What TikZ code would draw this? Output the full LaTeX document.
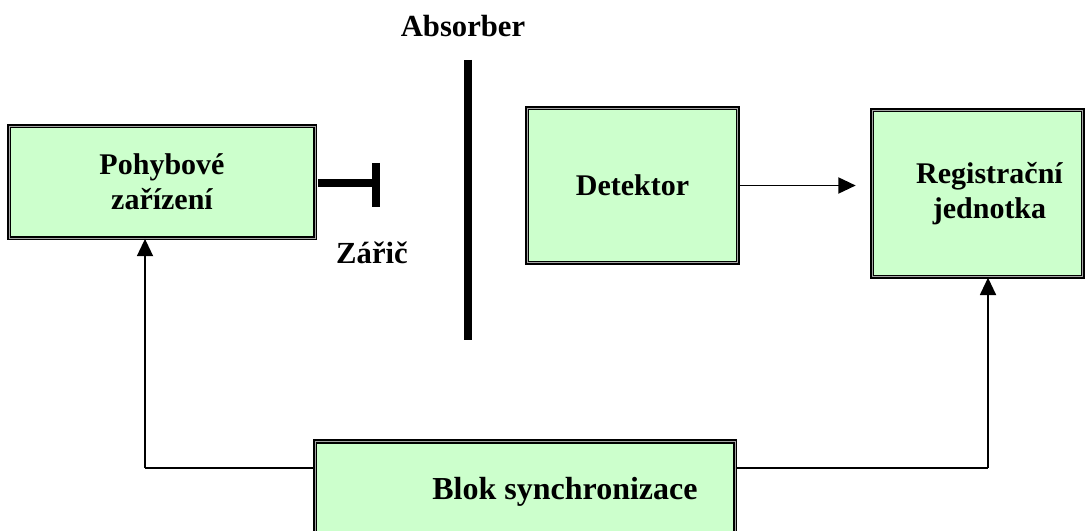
\documentclass[tikz,border=0pt]{standalone}
\usepackage{fontspec}
\setmainfont{Liberation Serif}
\usetikzlibrary{arrows.meta}
\definecolor{boxgreen}{HTML}{CCFFCC}
\tikzset{
  blockbox/.style={draw=black, line width=1.3pt, double=gray!70, double distance=0.7pt,
    fill=boxgreen, align=center, inner sep=0pt,
    font=\fontsize{22.5}{26.5}\selectfont\bfseries},
  conn/.style={line width=1.4pt, -{Triangle[length=13pt,width=12pt]}},
  plain/.style={line width=1.4pt},
  lbl/.style={font=\fontsize{23}{26}\selectfont\bfseries, inner sep=0pt},
  thickbar/.style={line width=6pt}
}
\begin{document}
\begin{tikzpicture}[x=0.75pt,y=-0.75pt]
\clip (0,0) rectangle (1089,531);
\fill[white] (0,0) rectangle (1089,531);
\node[blockbox, minimum width=229.5pt, minimum height=84pt] (pohyb) at (162,182) {Pohybové\\zařízení};
\node[blockbox, minimum width=158pt, minimum height=116pt] (det) at (632.5,185.5) {Detektor};
\node[blockbox, minimum width=158pt, minimum height=125pt] (reg) at (977.5,193.5) {\hspace*{18pt}Registrační\\\hspace*{18pt}jednotka};
\node[blockbox, minimum width=315pt, minimum height=80pt] (sync) at (525,495) {\raisebox{10pt}{\hspace*{60pt}\fontsize{24}{26}\selectfont Blok synchronizace}};
\node[lbl] (abslbl) at (463,26) {Absorber};
\node[lbl] (zlbl) at (372,253) {Zářič};
% absorber
\draw[line width=5.5pt] (468,60) -- (468,340);
% source
\draw[thickbar] (318,183) -- (379,183);
\draw[line width=6pt] (376,163) -- (376,207);
% connectors
\coordinate (cl) at (145,468);
\coordinate (cr) at (988,468);
\draw[conn] (det.east) -- ++(117,0) coordinate (dt);
\draw[plain] (sync.west |- cl) -- (cl);
\draw[conn] (cl) -- (cl |- pohyb.south);
\draw[plain] (sync.east |- cr) -- (cr);
\draw[conn] (cr) -- (cr |- reg.south);
\end{tikzpicture}
\end{document}
